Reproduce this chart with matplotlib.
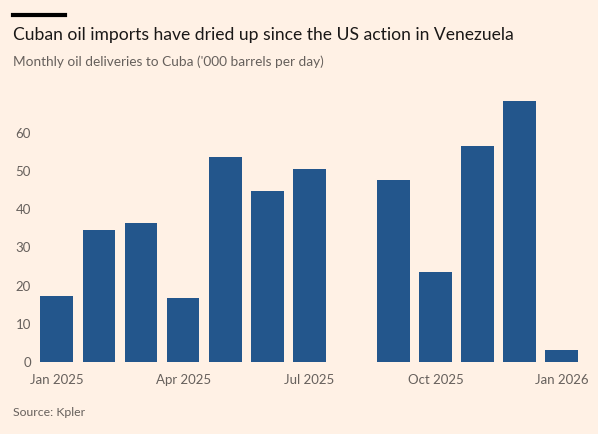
import numpy as np
import matplotlib
matplotlib.use("Agg")
import matplotlib.pyplot as plt

# данные: поставки нефти на Кубу, тыс. баррелей в день
months = ["Jan 2025", "Feb 2025", "Mar 2025", "Apr 2025", "May 2025", "Jun 2025",
          "Jul 2025", "Aug 2025", "Sep 2025", "Oct 2025", "Nov 2025", "Dec 2025",
          "Jan 2026"]
deliveries = [17.3, 34.6, 36.3, 16.7, 53.7, 44.7, 50.5, np.nan, 47.6, 23.6, 56.5, 68.3, 3.1]
tick_labels = ["Jan 2025", "Apr 2025", "Jul 2025", "Oct 2025", "Jan 2026"]
y_ticks = [0, 10, 20, 30, 40, 50, 60]

bg = "#fff1e5"
bar_color = "#23568c"
grey = "#66605c"

plt.rcParams['font.family'] = ['Lato', 'DejaVu Sans']

fig = plt.figure(figsize=(5.98, 4.34), dpi=100, facecolor=bg)
ax = fig.add_axes([0.0585, 0.166, 0.916, 0.616], facecolor=bg)

x = np.arange(len(months))
ax.bar(x, deliveries, width=0.78, color=bar_color)

ax.set_xlim(-0.52, 12.5)
ax.set_ylim(0, 70)
ax.set_yticks(y_ticks)
ax.set_xticks([months.index(m) for m in tick_labels])
ax.set_xticklabels(tick_labels)
ax.tick_params(axis='both', length=0, colors=grey, labelsize=9.5)
ax.tick_params(axis='x', pad=9)
ax.tick_params(axis='y', pad=3)
for s in ax.spines.values():
    s.set_visible(False)

# шапка
fig.add_artist(plt.Line2D([13 / 598, 65 / 598], [1 - 14.5 / 434, 1 - 14.5 / 434],
                          color="#000000", linewidth=3))
fig.text(13 / 598, 1 - 35 / 434, "Cuban oil imports have dried up since the US action in Venezuela",
         fontsize=12.6, color="#1a1817", va='center', ha='left')
fig.text(13 / 598, 1 - 62 / 434, "Monthly oil deliveries to Cuba ('000 barrels per day)",
         fontsize=9.8, color=grey, va='center', ha='left')
fig.text(13 / 598, 1 - 413 / 434, "Source: Kpler", fontsize=8.8, color=grey,
         va='center', ha='left')

fig.savefig("out.png", dpi=100, facecolor=bg)
